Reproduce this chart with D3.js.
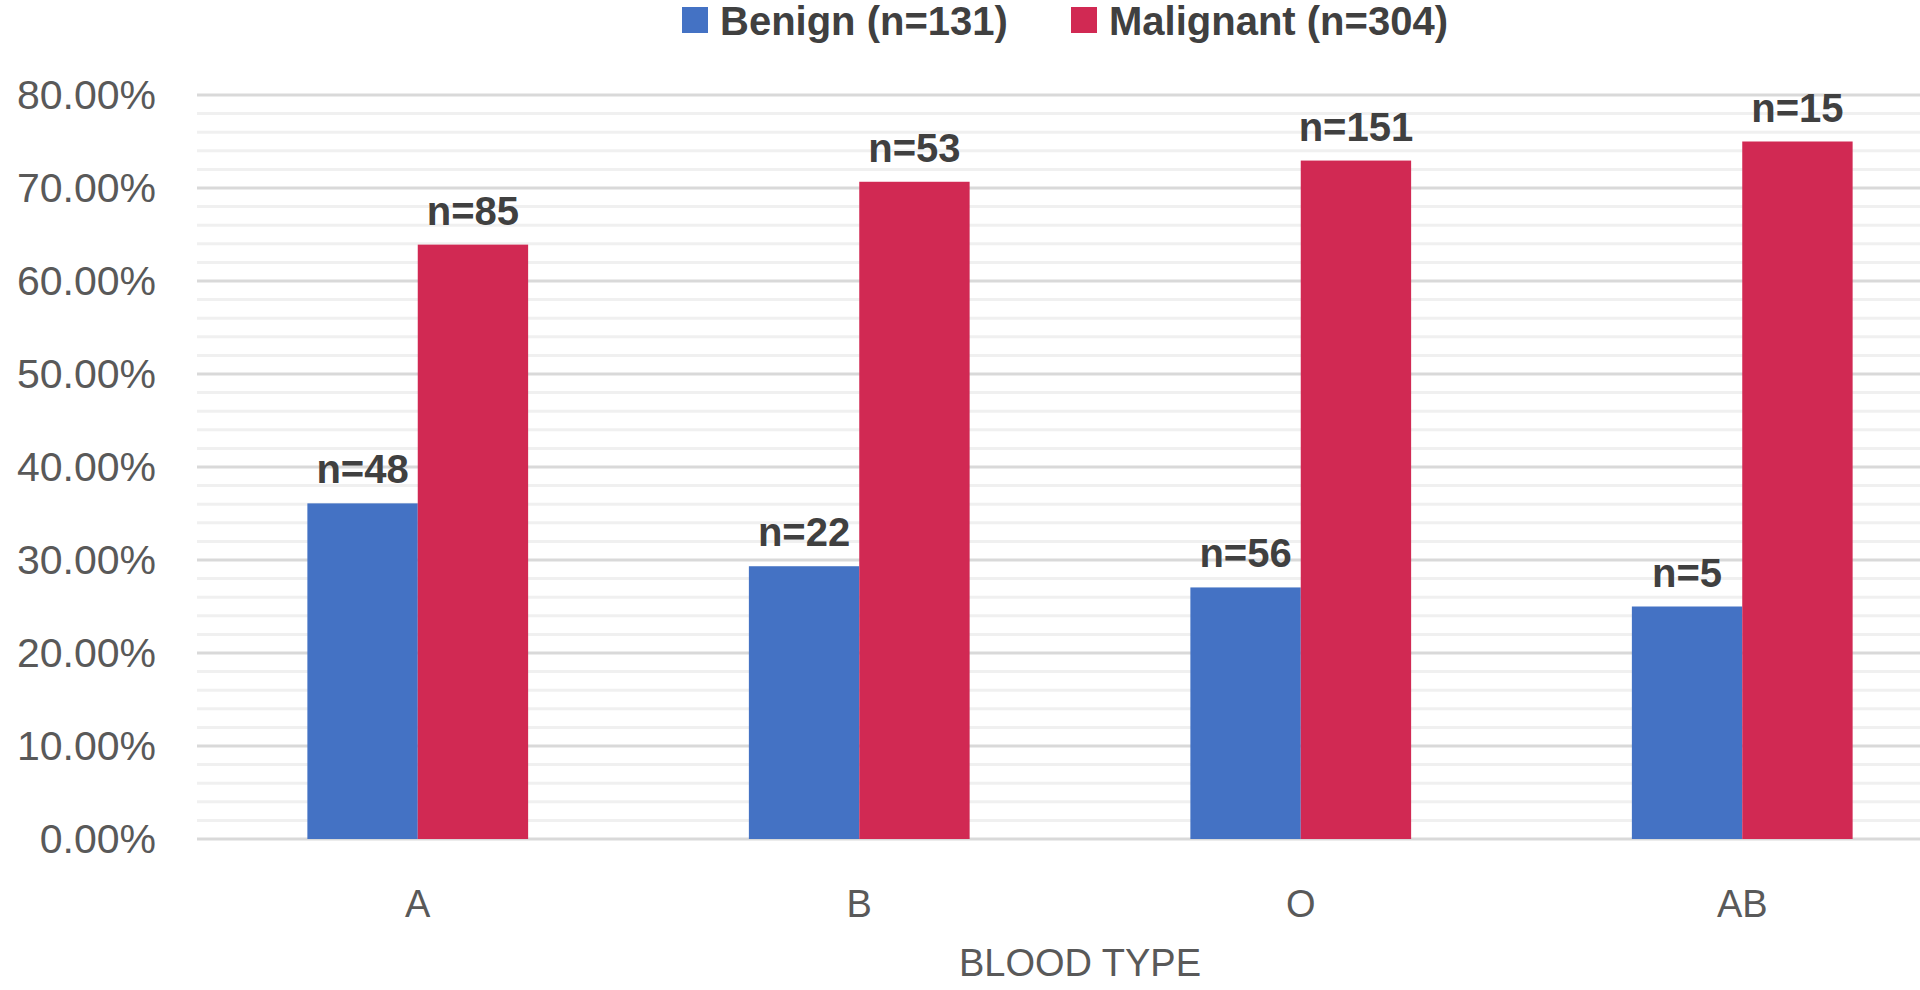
<!DOCTYPE html>
<html>
<head>
<meta charset="utf-8">
<script src="https://cdn.jsdelivr.net/npm/d3@7"></script>
<style>
	html, body { margin:0; padding:0; background:#fff; }
	svg { display:block; font-family:"Liberation Sans", Arial, sans-serif; }
</style>
</head>
<body>
<svg id="chart" width="1920" height="990"></svg>
<script>
//chart data
var categories = ["A", "B", "O", "AB"];
var seriesNames = ["Benign (n=131)", "Malignant (n=304)"];
var benign = [36.09, 29.33, 27.05, 25.00];
var malignant = [63.91, 70.67, 72.95, 75.00];
var benignN = ["n=48", "n=22", "n=56", "n=5"];
var malignantN = ["n=85", "n=53", "n=151", "n=15"];
var yTicks = [0, 10, 20, 30, 40, 50, 60, 70, 80];
var xTitle = "BLOOD TYPE";

(function(){

	var colors = ["#4472C4", "#D12953"];
	var svg = d3.select("#chart");

	//plot area (right side runs past the picture edge like the reference)
	var left = 197, right = 1963, top = 95, bottom = 839;

	var x = d3.scaleBand().domain(categories).range([left, right]).paddingInner(0.5).paddingOuter(0.25);
	var xs = d3.scaleBand().domain([0, 1]).range([0, x.bandwidth()]);
	var y = d3.scaleLinear().domain([0, 80]).range([bottom, top]);

	//minor gridlines every 2%
	var minor = d3.range(0, 80.01, 2).filter(function(v){return v % 10 !== 0});
	svg.append("g").selectAll("line").data(minor).join("line")
		.attr("x1", left).attr("x2", 1920)
		.attr("y1", function(d){return y(d)}).attr("y2", function(d){return y(d)})
		.attr("stroke", "#f0f0f0").attr("stroke-width", 3);

	//major gridlines
	svg.append("g").selectAll("line").data(yTicks).join("line")
		.attr("x1", left).attr("x2", 1920)
		.attr("y1", function(d){return y(d)}).attr("y2", function(d){return y(d)})
		.attr("stroke", "#d9d9d9").attr("stroke-width", 3);

	//y axis labels
	var yAxis = d3.axisLeft(y).tickValues(yTicks).tickSize(0).tickPadding(0)
		.tickFormat(function(d){return d3.format(".2f")(d) + "%"});
	var ya = svg.append("g").attr("transform", "translate(156,0)").call(yAxis);
	ya.select(".domain").remove();
	ya.selectAll("text").attr("font-size", 41).attr("fill", "#595959")
		.attr("font-family", "Liberation Sans, Arial, sans-serif");

	//bars
	var rows = categories.map(function(c, i){
		return {cat:c, vals:[benign[i], malignant[i]], labs:[benignN[i], malignantN[i]]};
	});
	var groups = svg.append("g").selectAll("g").data(rows).join("g")
		.attr("transform", function(d){return "translate(" + x(d.cat) + ",0)"});

	groups.selectAll("rect").data(function(d){return d.vals}).join("rect")
		.attr("x", function(d, i){return xs(i)})
		.attr("width", xs.bandwidth())
		.attr("y", function(d){return y(d)})
		.attr("height", function(d){return y(0) - y(d)})
		.attr("fill", function(d, i){return colors[i]});

	groups.selectAll("text").data(function(d){return d.vals.map(function(v, i){return {v:v, t:d.labs[i], i:i}})}).join("text")
		.attr("x", function(d){return xs(d.i) + xs.bandwidth()/2})
		.attr("y", function(d){return y(d.v) - 20})
		.attr("text-anchor", "middle")
		.attr("font-size", 40).attr("font-weight", "bold").attr("fill", "#404040")
		.text(function(d){return d.t});

	//x axis
	var xAxis = d3.axisBottom(x).tickSize(0).tickPadding(0);
	var xa = svg.append("g").attr("transform", "translate(0," + bottom + ")").call(xAxis);
	xa.select(".domain").remove();
	xa.selectAll("text").attr("font-size", 38).attr("fill", "#595959")
		.attr("font-family", "Liberation Sans, Arial, sans-serif")
		.attr("dy", null).attr("y", 78);

	svg.append("text")
		.attr("x", (left + right)/2).attr("y", 976)
		.attr("text-anchor", "middle")
		.attr("font-size", 38).attr("fill", "#595959")
		.text(xTitle);

	//legend
	var legX = [682, 1071];
	var leg = svg.append("g").selectAll("g").data(seriesNames).join("g")
		.attr("transform", function(d, i){return "translate(" + legX[i] + ",0)"});
	leg.append("rect").attr("x", 0).attr("y", 7).attr("width", 26).attr("height", 26)
		.attr("fill", function(d, i){return colors[i]});
	leg.append("text").attr("x", 38).attr("y", 35)
		.attr("font-size", 40).attr("font-weight", "bold").attr("fill", "#404040")
		.text(function(d){return d});

})();
</script>
</body>
</html>
